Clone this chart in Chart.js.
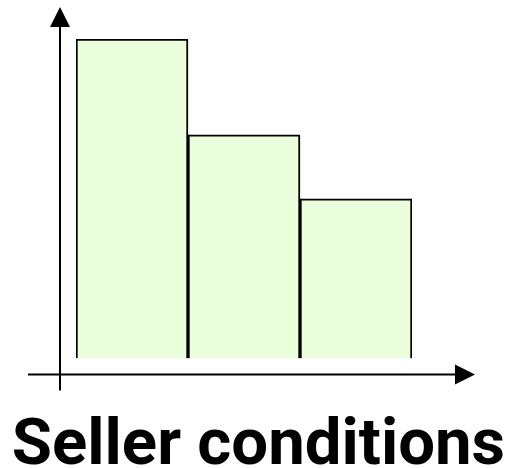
<!DOCTYPE html>
<html>
<head>
<meta charset="utf-8">
<script src="https://cdn.jsdelivr.net/npm/chart.js@4"></script>
<style>
  html, body { margin: 0; padding: 0; background: #fff; }
  #wrap { width: 517px; height: 468px; }
</style>
</head>
<body>
<div id="wrap"><canvas id="sellerChart"></canvas></div>
<script>
// values (relative heights, top bar = 10)
const categories = ['', '', ''];
const barValues = [10, 7, 5];
const yMax = 10;
const titleText = 'Seller conditions';

const titleFamily = 'Roboto';
const titleWidth = 493;

// size the title so it spans the same width as in the picture
function fitTitleSize() {
    const m = document.createElement('canvas').getContext('2d');
    m.font = 'bold 100px ' + titleFamily;
    return Math.round(100 * titleWidth / m.measureText(titleText).width * 10) / 10;
}

// invisible axis that only reserves room beside the bars
function spacer(position, width) {
    return {
        display: true,
        position: position,
        min: 0,
        max: yMax,
        ticks: { display: false },
        grid: { display: false },
        border: { display: false },
        afterFit(scale) { scale.width = width; }
    };
}

// draws the two arrowed axes round the chart area
const arrowAxes = {
    id: 'arrowAxes',
    afterDraw(chart) {
        const ctx = chart.ctx;
        const a = chart.chartArea;
        const ax = a.left - 16;
        const ay = a.bottom + 16;
        ctx.save();
        ctx.strokeStyle = '#000';
        ctx.fillStyle = '#000';
        ctx.lineWidth = 2;

        // vertical axis
        ctx.beginPath();
        ctx.moveTo(ax, a.bottom + 32);
        ctx.lineTo(ax, a.top - 14);
        ctx.stroke();
        ctx.beginPath();
        ctx.moveTo(ax, a.top - 32);
        ctx.lineTo(ax - 10, a.top - 12);
        ctx.lineTo(ax + 10, a.top - 12);
        ctx.closePath();
        ctx.fill();

        // horizontal axis
        ctx.beginPath();
        ctx.moveTo(a.left - 48, ay);
        ctx.lineTo(a.right + 45, ay);
        ctx.stroke();
        ctx.beginPath();
        ctx.moveTo(a.right + 63, ay);
        ctx.lineTo(a.right + 43, ay - 10);
        ctx.lineTo(a.right + 43, ay + 10);
        ctx.closePath();
        ctx.fill();
        ctx.restore();
    }
};

const ctx = document.getElementById('sellerChart').getContext('2d');
new Chart(ctx, {
    type: 'bar',
    data: {
        labels: categories,
        datasets: [{
            data: barValues,
            backgroundColor: '#ebffdc',
            borderColor: '#000',
            borderWidth: 2,
            barPercentage: 1,
            categoryPercentage: 1
        }]
    },
    options: {
        responsive: true,
        maintainAspectRatio: false,
        animation: false,
        layout: {
            padding: { left: 0, right: 0, top: 39, bottom: 0 }
        },
        scales: {
            x: { display: false },
            y: spacer('left', 76),
            yRight: spacer('right', 105)
        },
        plugins: {
            legend: { display: false },
            tooltip: { enabled: false },
            title: {
                display: true,
                position: 'bottom',
                text: titleText,
                color: '#000',
                font: { family: titleFamily, size: fitTitleSize(), weight: 'bold', lineHeight: '40px' },
                padding: { top: 69.5, bottom: 0 }
            }
        }
    },
    plugins: [arrowAxes]
});
</script>
</body>
</html>
